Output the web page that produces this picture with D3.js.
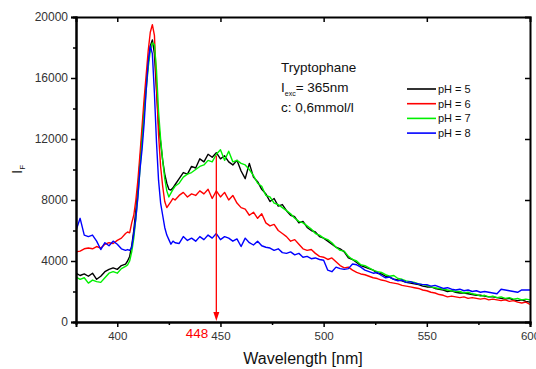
<!DOCTYPE html>
<html>
<head>
<meta charset="utf-8">
<script src="https://cdn.jsdelivr.net/npm/d3@7"></script>
<style>
  body { margin: 0; background: #fff; }
  text { font-family: "Liberation Sans", Arial, sans-serif; }
</style>
</head>
<body>
<svg id="chart" width="536" height="369"></svg>
<script>
// sampling grid (nm): 2 nm steps, 1 nm steps around the sharp peak
const wavelengths = [].concat(d3.range(380, 404, 2), d3.range(404, 428, 1), d3.range(428, 601, 2));

const seriesNames = ["pH = 5", "pH = 6", "pH = 7", "pH = 8"];
const seriesColors = ["#000000", "#ff0000", "#00f000", "#0000ff"];

const ph5 = [
  3200, 3050, 3150, 3000, 3200, 2800, 3000, 3300, 3450, 3550, 3450, 3700,
  3800, 4000, 4300, 5000, 6000, 7300, 8800, 10500, 12200, 14000, 15600, 17000,
  18100, 18500, 17600, 15200, 13000, 11800, 10600, 9700, 9100, 8700, 8650, 8800,
  9000, 9400, 9800, 9700, 10200, 10100, 10700, 10500, 11000, 10800, 11100, 10700,
  10900, 10500, 10300, 10600, 9900, 9400, 10400, 9500, 9200, 8700, 8400, 7900,
  8100, 7600, 7700, 7300, 7000, 6900, 6500, 6600, 6200, 6000, 5900, 5600,
  5500, 5300, 5100, 4900, 4800, 4600, 4200, 4100, 3900, 3700, 3600, 3500,
  3400, 3200, 3150, 3000, 2950, 2800, 2750, 2700, 2600, 2550, 2500, 2450,
  2350, 2300, 2300, 2200, 2150, 2100, 2000, 2050, 1950, 1900, 1900, 1850,
  1800, 1750, 1750, 1700, 1650, 1650, 1600, 1550, 1500, 1550, 1450, 1400,
  1450, 1350, 1300
];

const ph6 = [
  4600, 4650, 4800, 4850, 4800, 4950, 4850, 5100, 5200, 5150, 5350, 5500,
  5800, 5900, 5850, 6500, 7000, 8000, 9300, 11000, 12800, 14600, 16200, 17800,
  19000, 19500, 18800, 15500, 12300, 10200, 8900, 7900, 7500, 7700, 7900, 8100,
  8000, 8300, 8500, 8200, 8400, 8300, 8600, 8400, 8700, 8100, 8600, 8200,
  8500, 8000, 8300, 7800, 7500, 7400, 7000, 7200, 6800, 7100, 6500, 6300,
  6400, 6000, 5800, 5600, 5300, 5400, 5100, 4800, 4700, 4750, 4500, 4300,
  4250, 4100, 4200, 3950, 3700, 3550, 3600, 3400, 3250, 3150, 3100, 3000,
  2900, 2850, 2750, 2700, 2600, 2550, 2500, 2400, 2350, 2300, 2250, 2200,
  2100, 2050, 1950, 1900, 1800, 1750, 1650, 1700, 1650, 1600, 1650, 1550,
  1600, 1550, 1500, 1550, 1450, 1500, 1450, 1400, 1450, 1350, 1400, 1300,
  1250, 1300, 1150
];

const ph7 = [
  2950, 2800, 2900, 2550, 2750, 2650, 2600, 2900, 3200, 3300, 3200, 3500,
  3650, 3750, 4000, 4600, 5500, 6800, 8300, 10000, 11800, 13600, 15200, 16700,
  17800, 18300, 18200, 16500, 13800, 12000, 10600, 9400, 8600, 8200, 8450, 8700,
  8900, 9100, 9500, 9700, 9800, 10000, 10200, 10300, 10600, 10500, 11000, 11300,
  10600, 11200, 10500, 10600, 10400, 10300, 10000, 9600, 9100, 8900, 8300, 8200,
  7800, 7700, 7500, 7300, 7100, 6800, 6600, 6500, 6300, 6100, 5800, 5700,
  5500, 5400, 5200, 4900, 4700, 4650, 4300, 4100, 4000, 3750, 3700, 3550,
  3400, 3300, 3250, 3100, 3000, 3050, 2850, 2800, 2700, 2650, 2600, 2500,
  2450, 2400, 2300, 2250, 2200, 2150, 2100, 2050, 2000, 2000, 1900, 1950,
  1850, 1800, 1700, 1750, 1650, 1700, 1600, 1650, 1550, 1600, 1500, 1550,
  1450, 1500, 1450
];

const ph8 = [
  6000, 6800, 5700, 5600, 5700, 5300, 4750, 5200, 5000, 5300, 5100, 4800,
  4700, 4750, 4700, 4900, 5800, 6800, 8200, 10000, 11300, 13000, 15200, 17000,
  18100, 17600, 15000, 11800, 9300, 7800, 7000, 6200, 5700, 5400, 5100, 5300,
  5200, 5150, 5600, 5350, 5500, 5300, 5600, 5400, 5700, 5500, 5800, 5400,
  5600, 5500, 5300, 5450, 4950, 5500, 5200, 5050, 5300, 5000, 4900, 4850,
  4700, 4800, 4550, 4500, 4600, 4400, 4500, 4250, 4300, 4150, 4200, 4100,
  4050, 3400, 3300, 3600, 3500, 3450, 3500, 3800, 3750, 3600, 3400, 3300,
  3200, 3250, 3050, 2900, 2950, 2800, 2700, 2750, 2600, 2650, 2550, 2500,
  2450, 2450, 2350, 2400, 2300, 2200, 2250, 2150, 2100, 2150, 2050, 2100,
  2000, 2050, 1950, 2000, 1950, 1900, 1850, 2150, 2100, 2050, 2000, 1950,
  2100, 2100, 2100
];

const seriesValues = [ph5, ph6, ph7, ph8];

const xTicks = [400, 450, 500, 550, 600];
const xMinorTicks = [425, 475, 525, 575];
const yTicks = [0, 4000, 8000, 12000, 16000, 20000];
const yMinorTicks = [2000, 6000, 10000, 14000, 18000];

const markWavelength = 448;
const markTop = 10900;

const margin = { top: 17, right: 6, bottom: 47, left: 76 };
const W = 536, H = 369;
const width = W - margin.left - margin.right;
const height = H - margin.top - margin.bottom;

const svg = d3.select("#chart");
const g = svg.append("g").attr("transform", `translate(${margin.left},${margin.top})`);

const x = d3.scaleLinear().domain([380, 600]).range([0, width]);
const y = d3.scaleLinear().domain([0, 20000]).range([height, 0]);

g.append("clipPath").attr("id", "clip")
  .append("rect").attr("width", width).attr("height", height);

// curves
const line = d3.line()
  .x((d) => x(d[0]))
  .y((d) => y(d[1]));

seriesValues.forEach((vals, i) => {
  const pts = wavelengths.slice(0, vals.length).map((w, j) => [w, vals[j]]);
  g.append("path")
    .datum(pts)
    .attr("clip-path", "url(#clip)")
    .attr("fill", "none")
    .attr("stroke", seriesColors[i])
    .attr("stroke-width", 1.4)
    .attr("stroke-linejoin", "round")
    .attr("d", line);
});

// axes: bottom / left with labels, top / right mirrored inward
function styleAxis(sel) {
  sel.select(".domain").attr("stroke", "#000").attr("stroke-width", 2);
  sel.selectAll(".tick line").attr("stroke", "#000").attr("stroke-width", 1.5);
  sel.selectAll(".tick text").attr("fill", "#333").attr("font-family", "Liberation Sans, Arial, sans-serif");
}

g.append("g")
  .attr("transform", `translate(0,${height})`)
  .call(d3.axisBottom(x).tickValues(xMinorTicks).tickSize(3).tickFormat(""))
  .call(styleAxis);
g.append("g")
  .attr("transform", `translate(0,${height})`)
  .call(d3.axisBottom(x).tickValues(xTicks).tickSize(5).tickPadding(5).tickFormat(d3.format("d")))
  .call(styleAxis)
  .selectAll("text").attr("font-size", 11.5);

g.append("g")
  .call(d3.axisLeft(y).tickValues(yMinorTicks).tickSize(3).tickFormat(""))
  .call(styleAxis);
g.append("g")
  .call(d3.axisLeft(y).tickValues(yTicks).tickSize(5).tickPadding(3).tickFormat(d3.format("d")))
  .call(styleAxis)
  .selectAll("text").attr("font-size", 12);

g.append("g")
  .call(d3.axisTop(x).tickValues(xTicks.slice(0, 4)).tickSize(-5).tickFormat(""))
  .call(styleAxis);
g.append("g")
  .attr("transform", `translate(${width},0)`)
  .call(d3.axisRight(y).tickValues(yTicks.slice(1, 5)).tickSize(-5).tickFormat(""))
  .call(styleAxis);

// annotation arrow at the emission maximum
const mx = x(markWavelength);
g.append("line")
  .attr("x1", mx).attr("x2", mx)
  .attr("y1", y(markTop)).attr("y2", height - 6)
  .attr("stroke", "#ff0000").attr("stroke-width", 1.3);
g.append("path")
  .attr("d", `M${mx - 3},${height - 10}L${mx + 3},${height - 10}L${mx},${height - 1}Z`)
  .attr("fill", "#ff0000");
g.append("text")
  .attr("x", mx - 8).attr("y", height + 16)
  .attr("text-anchor", "end")
  .attr("fill", "#ff0000").attr("font-size", 13.5)
  .text(markWavelength);

// axis titles
svg.append("text")
  .attr("x", margin.left + width / 2).attr("y", H - 5)
  .attr("text-anchor", "middle").attr("font-size", 16).attr("fill", "#111")
  .text("Wavelength [nm]");

const yl = svg.append("text")
  .attr("transform", `translate(22,${margin.top + height / 2}) rotate(-90)`)
  .attr("text-anchor", "middle").attr("font-size", 15).attr("fill", "#111");
yl.append("tspan").text("I");
yl.append("tspan").attr("font-size", 8).attr("dy", 3).text("F");

// sample description
const info = svg.append("g").attr("font-size", 13.5).attr("fill", "#111");
info.append("text").attr("x", 281).attr("y", 72).text("Tryptophane");
const exc = info.append("text").attr("x", 281).attr("y", 92);
exc.append("tspan").text("I");
exc.append("tspan").attr("font-size", 7).attr("dy", 4).text("exc");
exc.append("tspan").attr("dy", -4).text("= 365nm");
info.append("text").attr("x", 281).attr("y", 112).text("c: 0,6mmol/l");

// legend
const legend = svg.append("g").attr("transform", "translate(407,89)");
seriesNames.forEach((name, i) => {
  const row = legend.append("g").attr("transform", `translate(0,${i * 14.7})`);
  row.append("line").attr("x1", 0).attr("x2", 29)
    .attr("stroke", seriesColors[i]).attr("stroke-width", 1.6);
  row.append("text").attr("x", 31).attr("y", 4)
    .attr("font-size", 11).attr("fill", "#111").text(name);
});
</script>
</body>
</html>
